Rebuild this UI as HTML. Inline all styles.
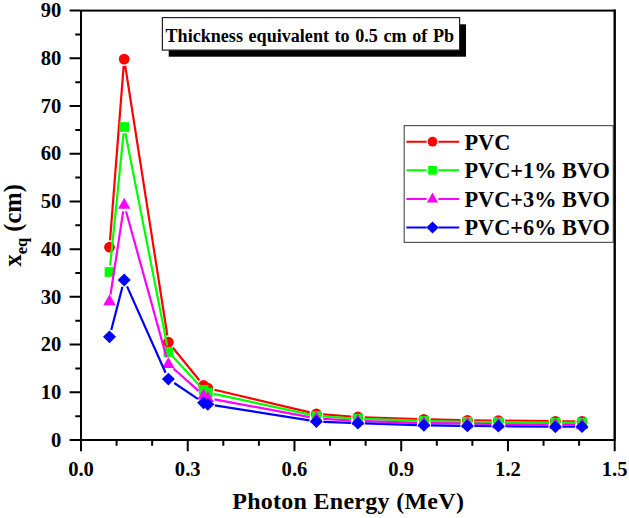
<!DOCTYPE html>
<html><head><meta charset="utf-8"><style>
html,body{margin:0;padding:0;background:#fff;}
body{width:629px;height:518px;position:relative;overflow:hidden;}
</style></head><body>
<svg width="629" height="518" viewBox="0 0 629 518" style="position:absolute;left:0;top:0">
<rect width="100%" height="100%" fill="#fff"/>
<path d="M110.03,240.42L123.67,65.88M125.25,65.82L167.35,335.48M172.69,347.48L199.31,380.22M214.42,389.77L309.78,412.33M323.18,414.41L351.12,416.49M364.70,417.24L417.10,419.06M430.70,419.46L460.60,420.14M474.20,420.37L491.60,420.53M505.20,420.68L548.60,421.22M562.20,421.33L575.20,421.37" stroke="#ff0000" stroke-width="2.2" fill="none"/>
<circle cx="109.50" cy="247.20" r="5.40" fill="#ff0000"/>
<circle cx="124.20" cy="59.10" r="5.40" fill="#ff0000"/>
<circle cx="168.40" cy="342.20" r="5.40" fill="#ff0000"/>
<circle cx="203.60" cy="385.50" r="5.40" fill="#ff0000"/>
<circle cx="207.80" cy="388.20" r="5.40" fill="#ff0000"/>
<circle cx="316.40" cy="413.90" r="5.40" fill="#ff0000"/>
<circle cx="357.90" cy="417.00" r="5.40" fill="#ff0000"/>
<circle cx="423.90" cy="419.30" r="5.40" fill="#ff0000"/>
<circle cx="467.40" cy="420.30" r="5.40" fill="#ff0000"/>
<circle cx="498.40" cy="420.60" r="5.40" fill="#ff0000"/>
<circle cx="555.40" cy="421.30" r="5.40" fill="#ff0000"/>
<circle cx="582.00" cy="421.40" r="5.40" fill="#ff0000"/>
<path d="M110.14,265.73L123.56,133.27M125.41,133.18L167.19,345.82M172.69,356.62L199.31,385.28M213.96,393.93L310.24,414.67M322.69,416.41L351.61,418.29M364.20,418.91L417.60,420.69M430.20,421.02L461.10,421.58M473.70,421.78L492.10,422.02M504.70,422.17L549.10,422.63M561.70,422.70L575.70,422.70" stroke="#00ff00" stroke-width="2.2" fill="none"/>
<rect x="104.65" y="267.15" width="9.70" height="9.70" fill="#00ff00"/>
<rect x="119.35" y="122.15" width="9.70" height="9.70" fill="#00ff00"/>
<rect x="163.55" y="347.15" width="9.70" height="9.70" fill="#00ff00"/>
<rect x="198.75" y="385.05" width="9.70" height="9.70" fill="#00ff00"/>
<rect x="202.95" y="387.75" width="9.70" height="9.70" fill="#00ff00"/>
<rect x="311.55" y="411.15" width="9.70" height="9.70" fill="#00ff00"/>
<rect x="353.05" y="413.85" width="9.70" height="9.70" fill="#00ff00"/>
<rect x="419.05" y="416.05" width="9.70" height="9.70" fill="#00ff00"/>
<rect x="462.55" y="416.85" width="9.70" height="9.70" fill="#00ff00"/>
<rect x="493.55" y="417.25" width="9.70" height="9.70" fill="#00ff00"/>
<rect x="550.55" y="417.85" width="9.70" height="9.70" fill="#00ff00"/>
<rect x="577.15" y="417.85" width="9.70" height="9.70" fill="#00ff00"/>
<path d="M110.52,294.53L123.18,211.42M126.02,211.25L166.58,357.45M173.47,368.53L198.53,390.87M214.48,399.35L309.72,417.15M323.19,418.81L351.11,420.49M364.70,421.13L417.10,422.87M430.70,423.15L460.60,423.35M474.20,423.58L491.60,424.02M505.20,424.26L548.60,424.64M562.20,424.70L575.20,424.70" stroke="#ff00ff" stroke-width="2.2" fill="none"/>
<polygon points="109.50,294.25 115.70,305.25 103.30,305.25" fill="#ff00ff"/>
<polygon points="124.20,197.70 130.40,208.70 118.00,208.70" fill="#ff00ff"/>
<polygon points="168.40,357.00 174.60,368.00 162.20,368.00" fill="#ff00ff"/>
<polygon points="203.60,388.40 209.80,399.40 197.40,399.40" fill="#ff00ff"/>
<polygon points="207.80,391.10 214.00,402.10 201.60,402.10" fill="#ff00ff"/>
<polygon points="316.40,411.40 322.60,422.40 310.20,422.40" fill="#ff00ff"/>
<polygon points="357.90,413.90 364.10,424.90 351.70,424.90" fill="#ff00ff"/>
<polygon points="423.90,416.10 430.10,427.10 417.70,427.10" fill="#ff00ff"/>
<polygon points="467.40,416.40 473.60,427.40 461.20,427.40" fill="#ff00ff"/>
<polygon points="498.40,417.20 504.60,428.20 492.20,428.20" fill="#ff00ff"/>
<polygon points="555.40,417.70 561.60,428.70 549.20,428.70" fill="#ff00ff"/>
<polygon points="582.00,417.70 588.20,428.70 575.80,428.70" fill="#ff00ff"/>
<path d="M111.25,330.02L122.45,286.78M127.05,286.39L165.55,372.71M174.21,383.01L197.79,398.89M214.71,405.40L309.49,420.40M323.39,421.79L350.91,422.91M364.90,423.42L416.90,425.08M430.90,425.40L460.40,425.80M474.40,425.97L491.40,426.13M505.40,426.27L548.40,426.73M562.40,426.77L575.00,426.73" stroke="#0000ff" stroke-width="2.2" fill="none"/>
<polygon points="109.50,330.40 116.00,336.80 109.50,343.20 103.00,336.80" fill="#0000ff"/>
<polygon points="124.20,273.60 130.70,280.00 124.20,286.40 117.70,280.00" fill="#0000ff"/>
<polygon points="168.40,372.70 174.90,379.10 168.40,385.50 161.90,379.10" fill="#0000ff"/>
<polygon points="203.60,396.40 210.10,402.80 203.60,409.20 197.10,402.80" fill="#0000ff"/>
<polygon points="207.80,397.90 214.30,404.30 207.80,410.70 201.30,404.30" fill="#0000ff"/>
<polygon points="316.40,415.10 322.90,421.50 316.40,427.90 309.90,421.50" fill="#0000ff"/>
<polygon points="357.90,416.80 364.40,423.20 357.90,429.60 351.40,423.20" fill="#0000ff"/>
<polygon points="423.90,418.90 430.40,425.30 423.90,431.70 417.40,425.30" fill="#0000ff"/>
<polygon points="467.40,419.50 473.90,425.90 467.40,432.30 460.90,425.90" fill="#0000ff"/>
<polygon points="498.40,419.80 504.90,426.20 498.40,432.60 491.90,426.20" fill="#0000ff"/>
<polygon points="555.40,420.40 561.90,426.80 555.40,433.20 548.90,426.80" fill="#0000ff"/>
<polygon points="582.00,420.30 588.50,426.70 582.00,433.10 575.50,426.70" fill="#0000ff"/>
<rect x="81.0" y="10.6" width="533.7" height="429.4" fill="none" stroke="#000" stroke-width="2"/>
<path d="M80.00,440.00H69.6M80.00,416.14H75.3M80.00,392.29H69.6M80.00,368.43H75.3M80.00,344.58H69.6M80.00,320.72H75.3M80.00,296.87H69.6M80.00,273.01H75.3M80.00,249.16H69.6M80.00,225.30H75.3M80.00,201.44H69.6M80.00,177.59H75.3M80.00,153.73H69.6M80.00,129.88H75.3M80.00,106.02H69.6M80.00,82.17H75.3M80.00,58.31H69.6M80.00,34.46H75.3M80.00,10.60H69.6M81.00,441.00V451.2M116.58,441.00V445.8M152.16,441.00V445.8M187.74,441.00V451.2M223.32,441.00V445.8M258.90,441.00V445.8M294.48,441.00V451.2M330.06,441.00V445.8M365.64,441.00V445.8M401.22,441.00V451.2M436.80,441.00V445.8M472.38,441.00V445.8M507.96,441.00V451.2M543.54,441.00V445.8M579.12,441.00V445.8M614.70,441.00V451.2" stroke="#000" stroke-width="2" fill="none"/>
<g font-family='"Liberation Serif", serif' font-weight="bold" font-size="20.6" fill="#000"><text x="61.4" y="446.70" text-anchor="end">0</text><text x="61.4" y="398.99" text-anchor="end">10</text><text x="61.4" y="351.28" text-anchor="end">20</text><text x="61.4" y="303.57" text-anchor="end">30</text><text x="61.4" y="255.86" text-anchor="end">40</text><text x="61.4" y="208.14" text-anchor="end">50</text><text x="61.4" y="160.43" text-anchor="end">60</text><text x="61.4" y="112.72" text-anchor="end">70</text><text x="61.4" y="65.01" text-anchor="end">80</text><text x="61.4" y="17.30" text-anchor="end">90</text><text x="81.00" y="475.6" text-anchor="middle">0.0</text><text x="187.74" y="475.6" text-anchor="middle">0.3</text><text x="294.48" y="475.6" text-anchor="middle">0.6</text><text x="401.22" y="475.6" text-anchor="middle">0.9</text><text x="507.96" y="475.6" text-anchor="middle">1.2</text><text x="614.70" y="475.6" text-anchor="middle">1.5</text></g>
<text x="348.2" y="509.4" text-anchor="middle" font-family='"Liberation Serif", serif' font-weight="bold" font-size="24" letter-spacing="0.28">Photon Energy (MeV)</text>
<text transform="translate(21.0,225.3) rotate(-90)" text-anchor="middle" font-family='"Liberation Serif", serif' font-weight="bold" font-size="24.5">x<tspan font-size="16.5" dy="5.7">eq</tspan><tspan dy="-5.7"> (cm)</tspan></text>
<rect x="168.7" y="24.3" width="297.3" height="32.4" fill="#000"/>
<rect x="162.4" y="17.6" width="297.2" height="32.5" fill="#fff" stroke="#222" stroke-width="1.2"/>
<text x="165.5" y="42.0" font-family='"Liberation Serif", serif' font-weight="bold" font-size="18.1" word-spacing="1.1">Thickness equivalent to 0.5 cm of Pb</text>
<rect x="404.2" y="125.6" width="209.1" height="116.8" fill="#fff" stroke="#555" stroke-width="1.2"/>
<path d="M614.7,9.6V441.0" stroke="#000" stroke-width="2"/>
<path d="M406.4,141.7H426.6M438.4,141.7H459.2" stroke="#ff0000" stroke-width="2"/>
<circle cx="432.50" cy="141.70" r="4.86" fill="#ff0000"/>
<text x="464.5" y="149.60" font-family='"Liberation Serif", serif' font-weight="bold" font-size="22.3">PVC</text>
<path d="M406.4,170.3H426.6M438.4,170.3H459.2" stroke="#00ff00" stroke-width="2"/>
<rect x="428.13" y="165.94" width="8.73" height="8.73" fill="#00ff00"/>
<text x="464.5" y="178.20" font-family='"Liberation Serif", serif' font-weight="bold" font-size="22.3">PVC+1% BVO</text>
<path d="M406.4,198.9H426.6M438.4,198.9H459.2" stroke="#ff00ff" stroke-width="2"/>
<polygon points="432.50,192.60 438.08,202.50 426.92,202.50" fill="#ff00ff"/>
<text x="464.5" y="206.80" font-family='"Liberation Serif", serif' font-weight="bold" font-size="22.3">PVC+3% BVO</text>
<path d="M406.4,227.5H426.6M438.4,227.5H459.2" stroke="#0000ff" stroke-width="2"/>
<polygon points="432.50,221.42 438.68,227.50 432.50,233.58 426.32,227.50" fill="#0000ff"/>
<text x="464.5" y="235.40" font-family='"Liberation Serif", serif' font-weight="bold" font-size="22.3">PVC+6% BVO</text>
</svg>
</body></html>
